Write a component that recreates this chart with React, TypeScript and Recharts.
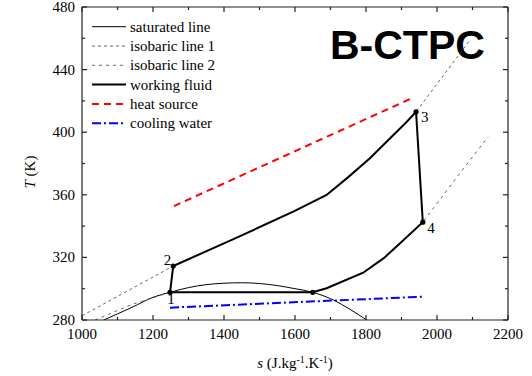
import React from "react";
import { ComposedChart, Line, XAxis, YAxis } from "recharts";

// T-s diagram, values
const satS = [1061, 1141, 1200, 1248, 1300, 1350, 1400, 1450, 1500, 1550, 1600, 1650, 1708, 1755, 1802];
const satT = [280, 288.1, 294.5, 297.7, 300.7, 302.6, 303.5, 303.8, 303.3, 302, 300, 297.7, 292.8, 286.8, 280];

const iso1S = [1000, 1257, 1425, 1595, 1689, 1750, 1811, 1868, 1915, 1941, 2065, 2090];
const iso1T = [282.7, 314.5, 331.5, 349.2, 359.9, 371.3, 383.3, 396.1, 406.7, 413, 450.4, 458];

const iso2S = [1037, 1141, 1248, 1650, 1689, 1792, 1850, 1896, 1960, 2050, 2144];
const iso2T = [280, 290, 297.7, 297.7, 300.3, 310.2, 319.5, 329, 342.5, 369.5, 397.1];

const wfS = [1248, 1257, 1425, 1595, 1689, 1750, 1811, 1868, 1915, 1941, 1960, 1896, 1850, 1792, 1689, 1650, 1248];
const wfT = [297.7, 314.5, 331.5, 349.2, 359.9, 371.3, 383.3, 396.1, 406.7, 413, 342.5, 329, 319.5, 310.2, 300.3, 297.7, 297.7];

const heatS = [1259, 1929];
const heatT = [352.8, 421.7];

const coolS = [1248, 1959];
const coolT = [287.9, 294.9];

const stateS = [1248, 1257, 1941, 1960, 1650];
const stateT = [297.7, 314.5, 413, 342.5, 297.7];
const stateLabels = ["1", "2", "3", "4", ""];

const xTicks = [1000, 1100, 1200, 1300, 1400, 1500, 1600, 1700, 1800, 1900, 2000, 2100, 2200];
const yTicks = [280, 300, 320, 340, 360, 380, 400, 420, 440, 460, 480];

const legendNames = ["saturated line", "isobaric line 1", "isobaric line 2", "working fluid", "heat source", "cooling water"];

const zip = (s: number[], t: number[]) => s.map((v, i) => ({ s: v, T: t[i] }));

const serif = "Liberation Serif";
const axisColor = "#222";

const styles = [
  { stroke: "#000", strokeWidth: 1, dash: undefined },
  { stroke: "#555", strokeWidth: 0.9, dash: "3 3" },
  { stroke: "#555", strokeWidth: 0.9, dash: "3 4" },
  { stroke: "#000", strokeWidth: 2, dash: undefined },
  { stroke: "#ff0000", strokeWidth: 2, dash: "7 5" },
  { stroke: "#0000ff", strokeWidth: 2, dash: "9 3 2 3" },
];

const BottomTick = (props: any) => {
  const { x, y, payload } = props;
  const major = payload.value % 200 === 0;
  return (
    <g>
      <line x1={x} x2={x} y1={y} y2={y - (major ? 5 : 3)} stroke={axisColor} strokeWidth={1.2} />
      {major && (
        <text x={x} y={y + 19} textAnchor="middle" style={{ fontFamily: serif, fontSize: 15 }} fill="#000">
          {payload.value}
        </text>
      )}
    </g>
  );
};

const TopTick = (props: any) => {
  const { x, y, payload } = props;
  const major = payload.value % 200 === 0;
  return <line x1={x} x2={x} y1={y} y2={y + (major ? 5 : 3)} stroke={axisColor} strokeWidth={1.2} />;
};

const LeftTick = (props: any) => {
  const { x, y, payload } = props;
  const major = payload.value % 40 === 0;
  return (
    <g>
      <line x1={x} x2={x + (major ? 5 : 3)} y1={y} y2={y} stroke={axisColor} strokeWidth={1.2} />
      {major && (
        <text x={x - 7} y={y + 5} textAnchor="end" style={{ fontFamily: serif, fontSize: 15 }} fill="#000">
          {payload.value}
        </text>
      )}
    </g>
  );
};

const RightTick = (props: any) => {
  const { x, y, payload } = props;
  const major = payload.value % 40 === 0;
  return <line x1={x} x2={x - (major ? 5 : 3)} y1={y} y2={y} stroke={axisColor} strokeWidth={1.2} />;
};

const renderState = (props: any) => {
  const { cx, cy, index } = props;
  const label = stateLabels[index];
  const pos: Record<string, [number, number, string]> = {
    "1": [1, 12, "middle"],
    "2": [-2, -1, "end"],
    "3": [5, 10, "start"],
    "4": [4.5, 11, "start"],
  };
  const p = pos[label];
  return (
    <g key={"st" + index}>
      <circle cx={cx} cy={cy} r={2.6} fill="#000" />
      {p && (
        <text x={cx + p[0]} y={cy + p[1]} textAnchor={p[2] as any} style={{ fontFamily: serif, fontSize: 15 }} fill="#000">
          {label}
        </text>
      )}
    </g>
  );
};

const LegendBox = () => (
  <g>
    {legendNames.map((name, i) => {
      const y = 26.7 + i * 19.3;
      const st = styles[i];
      return (
        <g key={name}>
          <line x1={92} x2={126} y1={y} y2={y} stroke={st.stroke} strokeWidth={st.strokeWidth} strokeDasharray={st.dash} />
          <text x={130} y={y + 5} style={{ fontFamily: serif, fontSize: 15 }} fill="#000">
            {name}
          </text>
        </g>
      );
    })}
  </g>
);

const series = [
  { key: "sat", data: zip(satS, satT), st: styles[0], type: "monotone" },
  { key: "iso1", data: zip(iso1S, iso1T), st: styles[1], type: "linear" },
  { key: "iso2", data: zip(iso2S, iso2T), st: styles[2], type: "linear" },
  { key: "heat", data: zip(heatS, heatT), st: styles[4], type: "linear" },
  { key: "cool", data: zip(coolS, coolT), st: styles[5], type: "linear" },
  { key: "wf", data: zip(wfS, wfT), st: styles[3], type: "linear" },
];

export default function App() {
  return (
    <div style={{ position: "absolute", left: 0, top: 0, width: 532, height: 376, background: "#fff" }}>
      <ComposedChart width={532} height={376} margin={{ top: 6, left: 81, right: 23, bottom: 55 }}>
        <XAxis
          dataKey="s"
          type="number"
          domain={[1000, 2200]}
          allowDataOverflow
          ticks={xTicks}
          interval={0}
          height={1}
          tickSize={0}
          tickMargin={0}
          tickLine={false}
          tick={<BottomTick />}
          axisLine={{ stroke: axisColor, strokeWidth: 1.2 }}
        />
        <XAxis
          xAxisId="top"
          orientation="top"
          dataKey="s"
          type="number"
          domain={[1000, 2200]}
          allowDataOverflow
          ticks={xTicks}
          interval={0}
          height={1}
          tickSize={0}
          tickMargin={0}
          tickLine={false}
          tick={<TopTick />}
          axisLine={{ stroke: axisColor, strokeWidth: 1.2 }}
        />
        <YAxis
          dataKey="T"
          type="number"
          domain={[280, 480]}
          allowDataOverflow
          ticks={yTicks}
          interval={0}
          width={1}
          tickSize={0}
          tickMargin={0}
          tickLine={false}
          tick={<LeftTick />}
          axisLine={{ stroke: axisColor, strokeWidth: 1.2 }}
        />
        <YAxis
          yAxisId="right"
          orientation="right"
          dataKey="T"
          type="number"
          domain={[280, 480]}
          allowDataOverflow
          ticks={yTicks}
          interval={0}
          width={1}
          tickSize={0}
          tickMargin={0}
          tickLine={false}
          tick={<RightTick />}
          axisLine={{ stroke: axisColor, strokeWidth: 1.2 }}
        />
        {series.map((sr) => (
          <Line
            key={sr.key}
            data={sr.data}
            dataKey="T"
            type={sr.type as any}
            stroke={sr.st.stroke}
            strokeWidth={sr.st.strokeWidth}
            strokeDasharray={sr.st.dash}
            dot={false}
            activeDot={false}
            isAnimationActive={false}
          />
        ))}
        <Line
          data={zip(stateS, stateT)}
          dataKey="T"
          stroke="none"
          dot={renderState}
          activeDot={false}
          isAnimationActive={false}
        />
        <LegendBox />
        <text x={330} y={59} style={{ fontFamily: "Liberation Sans", fontWeight: "bold", fontSize: 41 }} fill="#000">
          B-CTPC
        </text>
        <text x={295} y={368} textAnchor="middle" style={{ fontFamily: serif, fontSize: 15 }} fill="#000">
          <tspan fontStyle="italic">s</tspan> (J.kg
          <tspan dy={-5} fontSize={10}>-1</tspan>
          <tspan dy={5}>.K</tspan>
          <tspan dy={-5} fontSize={10}>-1</tspan>
          <tspan dy={5}>)</tspan>
        </text>
        <text x={30} y={177} transform="rotate(-90, 30, 172)" textAnchor="middle" style={{ fontFamily: serif, fontSize: 15 }} fill="#000">
          <tspan fontStyle="italic">T</tspan> (K)
        </text>
      </ComposedChart>
    </div>
  );
}
